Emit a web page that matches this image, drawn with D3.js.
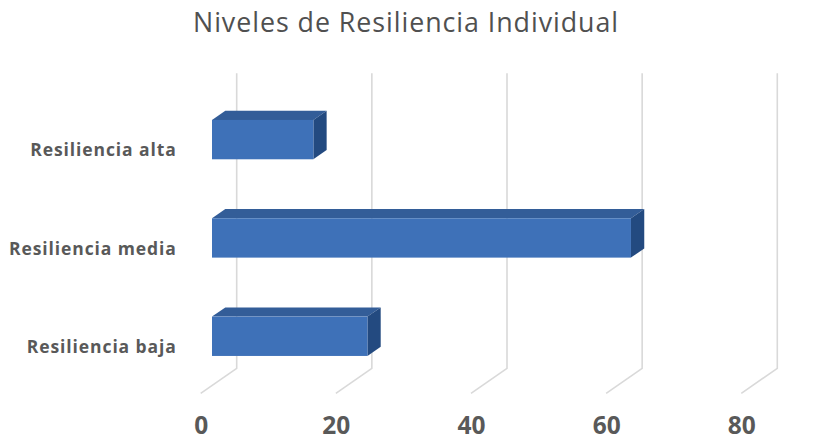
<!DOCTYPE html>
<html>
<head>
<meta charset="utf-8">
<script src="https://cdn.jsdelivr.net/npm/d3@7"></script>
<style>
  body { margin: 0; background: #fff; }
</style>
</head>
<body>
<div id="chart"></div>
<script>
// categories, top to bottom
var categories = ["Resiliencia alta", "Resiliencia media", "Resiliencia baja"];
// percent values
var values = [15, 62, 23];
var xTicks = [0, 20, 40, 60, 80];
var title = "Niveles de Resiliencia Individual";

(function() {
  var width = 822, height = 442;

  // back wall of the 3d plot area
  var wall = { left: 236.7, right: 777.3, top: 73.3, bottom: 368.3 };
  // floor depth, from back wall to the front edge
  var floor = { dx: -36, dy: 25 };
  // bar front / back faces as a fraction of the floor depth
  var barFront = 0.686, barBack = 0.317;

  var svg = d3.select("#chart")
    .append("svg")
    .attr("width", width)
    .attr("height", height);

  var xScale = d3.scaleLinear().domain([0, 80]).range([wall.left, wall.right]);
  var yScale = d3.scaleBand().domain(categories)
    .range([wall.top, wall.bottom])
    .paddingInner(0.6).paddingOuter(0.3);

  var data = categories.map(function(c, i) { return { cat: c, value: values[i] }; });

  // title
  svg.append("text")
    .attr("x", 406)
    .attr("y", 32.3)
    .attr("text-anchor", "middle")
    .style("font-family", "Open Sans")
    .style("font-size", "26.8px")
    .style("letter-spacing", "0.95px")
    .style("fill", "#505050")
    .text(title);

  // gridlines: up the back wall, then across the floor
  svg.append("g")
    .selectAll("path")
    .data(xTicks)
    .enter().append("path")
    .attr("d", function(d) {
      var x = xScale(d);
      return "M" + x + "," + wall.top + "V" + wall.bottom + "L" + (x + floor.dx) + "," + (wall.bottom + floor.dy);
    })
    .attr("fill", "none")
    .attr("stroke", "#d9d9d9")
    .attr("stroke-width", 1.6);

  var fdx = floor.dx * barFront, fdy = floor.dy * barFront;
  var bdx = floor.dx * barBack, bdy = floor.dy * barBack;

  var bars = svg.append("g")
    .selectAll("g")
    .data(data)
    .enter().append("g");

  // top face
  bars.append("path")
    .attr("d", function(d) {
      var x0 = xScale(0), x1 = xScale(d.value), y = yScale(d.cat);
      return "M" + (x0 + fdx) + "," + (y + fdy) +
        "L" + (x0 + bdx) + "," + (y + bdy) +
        "L" + (x1 + bdx) + "," + (y + bdy) +
        "L" + (x1 + fdx) + "," + (y + fdy) + "Z";
    })
    .attr("fill", "#335d98");

  // side face
  bars.append("path")
    .attr("d", function(d) {
      var x1 = xScale(d.value), y = yScale(d.cat), h = yScale.bandwidth();
      return "M" + (x1 + fdx) + "," + (y + fdy) +
        "L" + (x1 + bdx) + "," + (y + bdy) +
        "L" + (x1 + bdx) + "," + (y + bdy + h) +
        "L" + (x1 + fdx) + "," + (y + fdy + h) + "Z";
    })
    .attr("fill", "#234a80");

  // front face
  bars.append("rect")
    .attr("x", function(d) { return xScale(0) + fdx; })
    .attr("y", function(d) { return yScale(d.cat) + fdy; })
    .attr("width", function(d) { return xScale(d.value) - xScale(0); })
    .attr("height", yScale.bandwidth())
    .attr("fill", "#3e71b8");

  // value axis along the front edge of the floor
  var xAxis = d3.axisBottom(xScale).tickValues(xTicks).tickSize(0).tickFormat(d3.format("d"));
  svg.append("g")
    .attr("class", "axis x-axis")
    .attr("transform", "translate(" + floor.dx + "," + (wall.bottom + floor.dy) + ")")
    .call(xAxis)
    .call(function(g) { g.select(".domain").remove(); })
    .selectAll("text")
    .attr("y", 41)
    .attr("dy", 0)
    .style("font-family", "Open Sans")
    .style("font-weight", "bold")
    .style("font-size", "24.5px")
    .style("fill", "#595959");

  // category axis
  var yAxis = d3.axisLeft(yScale).tickSize(0);
  svg.append("g")
    .attr("class", "axis y-axis")
    .attr("transform", "translate(176.7," + floor.dy + ")")
    .call(yAxis)
    .call(function(g) { g.select(".domain").remove(); })
    .selectAll("text")
    .attr("x", 0)
    .attr("dy", "0.5em")
    .style("font-family", "Open Sans")
    .style("font-weight", "bold")
    .style("font-size", "17.5px")
    .style("letter-spacing", "0.9px")
    .style("fill", "#595959");
})();
</script>
</body>
</html>
